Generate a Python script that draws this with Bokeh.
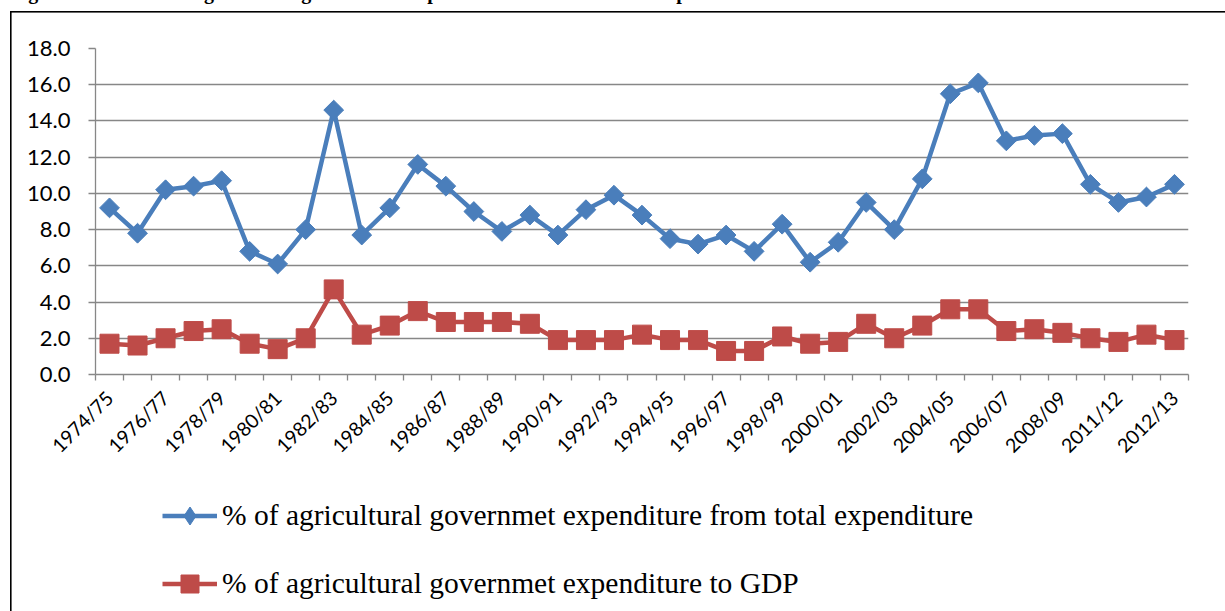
import math

from bokeh.embed import file_html
from bokeh.layouts import column
from bokeh.models import (CustomJSTickFormatter, FixedTicker, Label, Legend, LegendItem,
                          NumeralTickFormatter, Range1d)
from bokeh.plotting import figure
from bokeh.resources import INLINE

# Fiscal years on the category axis (every other one is labelled)
periods = [
    "1974/75", "1975/76", "1976/77", "1977/78", "1978/79", "1979/80", "1980/81",
    "1981/82", "1982/83", "1983/84", "1984/85", "1985/86", "1986/87", "1987/88",
    "1988/89", "1989/90", "1990/91", "1991/92", "1992/93", "1993/94", "1994/95",
    "1995/96", "1996/97", "1997/98", "1998/99", "1999/00", "2000/01", "2001/02",
    "2002/03", "2003/04", "2004/05", "2005/06", "2006/07", "2007/08", "2008/09",
    "2009/10", "2011/12", "2011/12", "2012/13",
]

# % of agricultural government expenditure from total expenditure
share_of_total = [
    9.2, 7.8, 10.2, 10.4, 10.7, 6.8, 6.1, 8.0, 14.6, 7.7,
    9.2, 11.6, 10.4, 9.0, 7.9, 8.8, 7.7, 9.1, 9.9, 8.8,
    7.5, 7.2, 7.7, 6.8, 8.3, 6.2, 7.3, 9.5, 8.0, 10.8,
    15.5, 16.1, 12.9, 13.2, 13.3, 10.5, 9.5, 9.8, 10.5,
]

# % of agricultural government expenditure to GDP
share_of_gdp = [
    1.7, 1.6, 2.0, 2.4, 2.5, 1.7, 1.4, 2.0, 4.7, 2.2,
    2.7, 3.5, 2.9, 2.9, 2.9, 2.8, 1.9, 1.9, 1.9, 2.2,
    1.9, 1.9, 1.3, 1.3, 2.1, 1.7, 1.8, 2.8, 2.0, 2.7,
    3.6, 3.6, 2.4, 2.5, 2.3, 2.0, 1.8, 2.2, 1.9,
]

y_ticks = [0, 2, 4, 6, 8, 10, 12, 14, 16, 18]

label_total = "% of agricultural governmet expenditure from total expenditure"
label_gdp = "% of agricultural governmet expenditure to GDP"
caption = ("Figure 3.1: Trends of agricultural government expenditure share "
           "from total expenditure and GDP")

BLUE = "#4A7EBB"
RED = "#BE4B48"
GRID = "#878787"

W = 1225
H_CHART, H_KEY = 480, 131
LEFT, RIGHT, TOP = 95, 37, 48
FRAME_BOTTOM = 374

x = list(range(len(periods)))

# ---- chart -------------------------------------------------------------
p = figure(
    width=W, height=H_CHART,
    x_range=Range1d(-0.5, len(periods) - 0.5),
    y_range=Range1d(0, 18),
    output_backend="svg", toolbar_location=None,
    min_border_left=LEFT, min_border_right=RIGHT,
    min_border_top=TOP, min_border_bottom=H_CHART - FRAME_BOTTOM,
)
p.outline_line_color = None
p.background_fill_color = "white"
p.border_fill_color = None

p.yaxis.ticker = FixedTicker(ticks=y_ticks)
p.yaxis.formatter = NumeralTickFormatter(format="0.0")
p.yaxis.major_label_text_font = "Lato"
p.yaxis.major_label_text_font_size = "22px"
p.yaxis.major_label_text_color = "black"
p.yaxis.major_tick_in = 0
p.yaxis.major_tick_out = 7
p.yaxis.major_tick_line_color = GRID
p.yaxis.major_tick_line_width = 1.3
p.yaxis.minor_tick_line_color = None
p.yaxis.axis_line_color = GRID
p.yaxis.axis_line_width = 1.3
p.yaxis.major_label_standoff = 18

p.xaxis.ticker = FixedTicker(
    ticks=list(range(0, len(periods), 2)),
    minor_ticks=[i - 0.5 for i in range(len(periods) + 1)],
)
p.xaxis.formatter = CustomJSTickFormatter(
    args=dict(labels=periods), code="return labels[Math.round(tick)] || '';"
)
p.xaxis.major_label_orientation = math.pi / 4
p.xaxis.major_label_text_font = "Lato"
p.xaxis.major_label_text_font_size = "19.5px"
p.xaxis.major_label_text_color = "black"
p.xaxis.major_tick_line_color = None
p.xaxis.major_tick_in = 0
p.xaxis.major_tick_out = 0
p.xaxis.major_label_standoff = 14
p.xaxis.minor_tick_in = 0
p.xaxis.minor_tick_out = 6
p.xaxis.minor_tick_line_color = GRID
p.xaxis.minor_tick_line_width = 1.3
p.xaxis.axis_line_color = GRID
p.xaxis.axis_line_width = 1.3

p.xgrid.visible = False
p.ygrid.ticker = FixedTicker(ticks=y_ticks)
p.ygrid.grid_line_color = GRID
p.ygrid.grid_line_width = 1.3

p.line(x, share_of_total, line_color=BLUE, line_width=4.5, line_join="round")
p.scatter(x, share_of_total, marker="square", angle=math.pi / 4, size=14,
          fill_color=BLUE, line_color=BLUE)
p.line(x, share_of_gdp, line_color=RED, line_width=4.5, line_join="round")
p.scatter(x, share_of_gdp, marker="square", size=19, fill_color=RED, line_color=RED)

# figure caption, running off the top edge of the page
p.add_layout(Label(
    x=10 - LEFT, y=TOP + 8.5, x_units="screen", y_units="screen",
    text=caption, text_font="Liberation Serif", text_font_style="bold",
    text_font_size="20px", text_baseline="alphabetic", text_align="left",
    text_color="black",
), "above")

# ---- legend strip --------------------------------------------------------
key = figure(
    width=W, height=H_KEY,
    x_range=Range1d(100, 101), y_range=Range1d(100, 101),
    x_axis_type=None, y_axis_type=None,
    output_backend="svg", toolbar_location=None, min_border=0,
)
key.outline_line_color = None
key.background_fill_color = None
key.border_fill_color = None
key.grid.visible = False

# key glyphs share the series data; the strip's ranges keep them out of view
k_blue_line = key.line(x, share_of_total, line_color=BLUE, line_width=4.5)
k_blue_mark = key.scatter(x, share_of_total, marker="diamond",
                          fill_color=BLUE, line_color=BLUE)
k_red_line = key.line(x, share_of_gdp, line_color=RED, line_width=4.5)
k_red_mark = key.scatter(x, share_of_gdp, marker="square",
                         fill_color=RED, line_color=RED)

# the strip's frame lines up with the chart frame (left edge at LEFT)
legend = Legend(
    items=[
        LegendItem(label=label_total, renderers=[k_blue_line, k_blue_mark]),
        LegendItem(label=label_gdp, renderers=[k_red_line, k_red_mark]),
    ],
    location=(162 - LEFT, 5),
    glyph_width=55, glyph_height=45, label_height=45,
    spacing=23, padding=0, margin=0, label_standoff=5,
    label_text_font="Liberation Serif", label_text_font_size="29.5px",
    label_text_color="black",
    border_line_color=None, background_fill_alpha=0,
)
key.add_layout(legend, "center")

# chart border: left and top edges (the rest runs past the page)
border_css = (
    "linear-gradient(#000, #000) 10px 11px / 1.6px 700px no-repeat, "
    "linear-gradient(#000, #000) 10px 11px / 1300px 1.6px no-repeat, #fff"
)
page = column(p, key, spacing=0, styles={"background": border_css})

open("out.html", "w").write(file_html(page, INLINE))
